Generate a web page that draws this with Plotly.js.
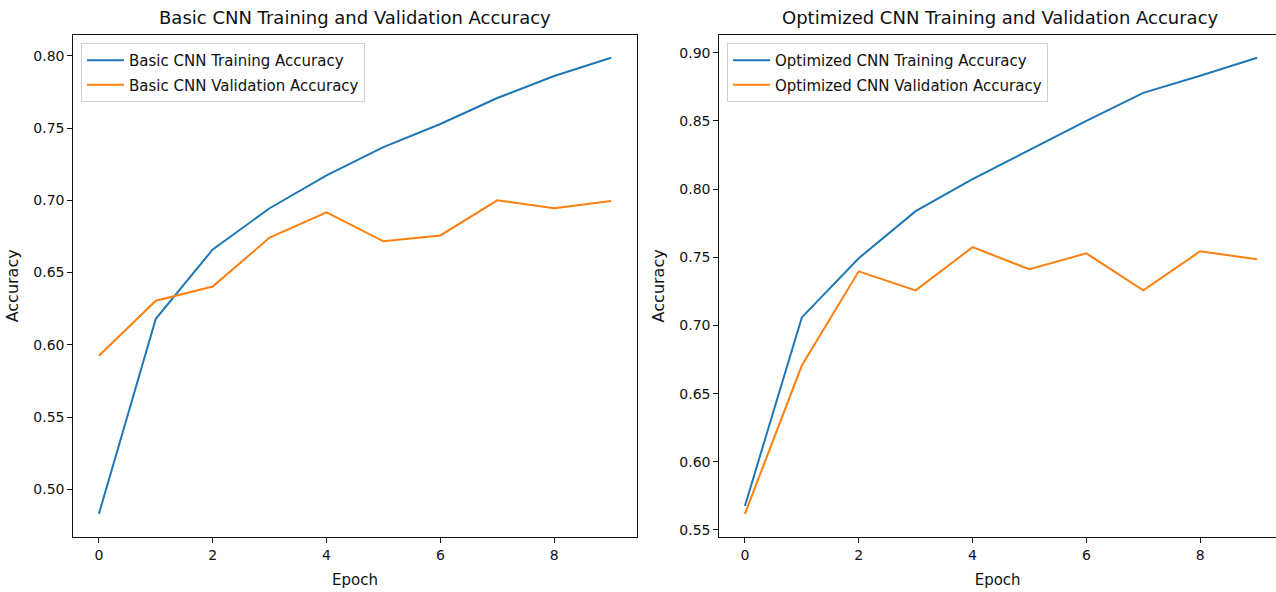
<!DOCTYPE html>
<html>
<head>
<meta charset="utf-8">
<script src="https://cdn.plot.ly/plotly-3.0.1.min.js"></script>
<style>html,body{margin:0;padding:0;background:#fff;}#chart{width:1276px;height:592px;}</style>
</head>
<body>
<div id="chart"></div>
<script>
const epochs = [0, 1, 2, 3, 4, 5, 6, 7, 8, 9];
const basicTrain = [0.483, 0.618, 0.666, 0.6945, 0.7173, 0.7368, 0.7528, 0.7708, 0.786, 0.7986];
const basicVal = [0.5924, 0.6305, 0.6403, 0.6742, 0.6917, 0.6716, 0.6757, 0.700, 0.6945, 0.6995];
const optTrain = [0.5676, 0.7059, 0.7493, 0.7838, 0.8074, 0.8287, 0.850, 0.8706, 0.8831, 0.8963];
const optVal = [0.5618, 0.6706, 0.7397, 0.7257, 0.7574, 0.7412, 0.7529, 0.7257, 0.7544, 0.7485];
const titles = ["Basic CNN Training and Validation Accuracy", "Optimized CNN Training and Validation Accuracy"];
const names = ["Basic CNN Training Accuracy", "Basic CNN Validation Accuracy", "Optimized CNN Training Accuracy", "Optimized CNN Validation Accuracy"];
const xTickVals = [0, 2, 4, 6, 8];
const xLabel = "Epoch";
const yLabel = "Accuracy";

const W = 1276, H = 592;
const FONT = "DejaVu Sans, sans-serif";
const TXT = "#111";
const blue = "#1f77b4", orange = "#ff7f0e";

function padRange(arrs) {
  const all = [].concat(...arrs);
  const mn = Math.min(...all), mx = Math.max(...all);
  const p = (mx - mn) * 0.05;
  return [mn - p, mx + p];
}
const yr1 = padRange([basicTrain, basicVal]);
const yr2 = padRange([optTrain, optVal]);

const plotTop = 35, plotBottom = 536.7;
const yDom = [(H - plotBottom) / H, (H - plotTop) / H];
const x1Dom = [73.3 / W, 636.7 / W];
const x2Dom = [719.3 / W, 1];
const pxPerUnit = (636.7 - 73.3) / 9.9;
const x2Right = -0.45 + (W - 719.3) / pxPerUnit;

function tr(y, name, ax, ay, leg, color, grp) {
  return {x: epochs, y: y, name: name, xaxis: ax, yaxis: ay, legend: leg, legendgroup: grp, type: "scatter", mode: "lines", line: {color: color, width: 2}};
}
const traces = [
  tr(basicTrain, names[0], "x", "y", "legend", blue, "a"),
  tr(basicVal, names[1], "x", "y", "legend", orange, "b"),
  tr(optTrain, names[2], "x2", "y2", "legend2", blue, "c"),
  tr(optVal, names[3], "x2", "y2", "legend2", orange, "d")
];

const tickFont = {family: FONT, size: 14, color: TXT};
function xAxis(dom, range, anchor, mirror) {
  return {domain: dom, range: range, anchor: anchor, tickvals: xTickVals, ticks: "outside", ticklen: 5, tickwidth: 1, tickcolor: TXT,
    showline: true, linecolor: TXT, linewidth: 1, mirror: mirror, showgrid: false, zeroline: false, tickfont: tickFont,
    title: {text: xLabel, font: {family: FONT, size: 15, color: TXT}, standoff: 12}, automargin: false};
}
function yAxis(dom, range, anchor, mirror) {
  return {domain: dom, range: range, anchor: anchor, dtick: 0.05, tickformat: ".2f", ticks: "outside", ticklen: 5, tickwidth: 1, tickcolor: TXT,
    showline: true, linecolor: TXT, linewidth: 1, mirror: mirror, showgrid: false, zeroline: false, tickfont: tickFont,
    title: {text: yLabel, font: {family: FONT, size: 16, color: TXT}, standoff: 10}, automargin: false};
}
const legendBase = {bgcolor: "rgba(255,255,255,0.8)", bordercolor: "#d0d0d0", borderwidth: 1, font: {family: FONT, size: 15, color: TXT},
  xanchor: "left", yanchor: "top", traceorder: "grouped", tracegroupgap: 2, itemwidth: 37};

const layout = {
  width: W, height: H,
  margin: {l: 0, r: 0, t: 0, b: 0},
  paper_bgcolor: "#fff", plot_bgcolor: "#fff",
  showlegend: true,
  xaxis: xAxis(x1Dom, [-0.45, 9.45], "y", true),
  yaxis: yAxis(yDom, yr1, "x", true),
  xaxis2: xAxis(x2Dom, [-0.45, x2Right], "y2", true),
  yaxis2: yAxis(yDom, yr2, "x2", false),
  legend: Object.assign({}, legendBase, {x: 81 / W, y: (H - 43) / H}),
  legend2: Object.assign({}, legendBase, {x: 727 / W, y: (H - 43) / H}),
  annotations: [
    {text: titles[0], xref: "paper", yref: "paper", x: (x1Dom[0] + x1Dom[1]) / 2, y: (H - 17) / H, xanchor: "center", yanchor: "middle", showarrow: false, font: {family: FONT, size: 18, color: TXT}},
    {text: titles[1], xref: "paper", yref: "paper", x: (719.3 + 1282) / 2 / W, y: (H - 17) / H, xanchor: "center", yanchor: "middle", showarrow: false, font: {family: FONT, size: 18, color: TXT}}
  ]
};
Plotly.newPlot("chart", traces, layout, {staticPlot: true, displayModeBar: false});
</script>
</body>
</html>
